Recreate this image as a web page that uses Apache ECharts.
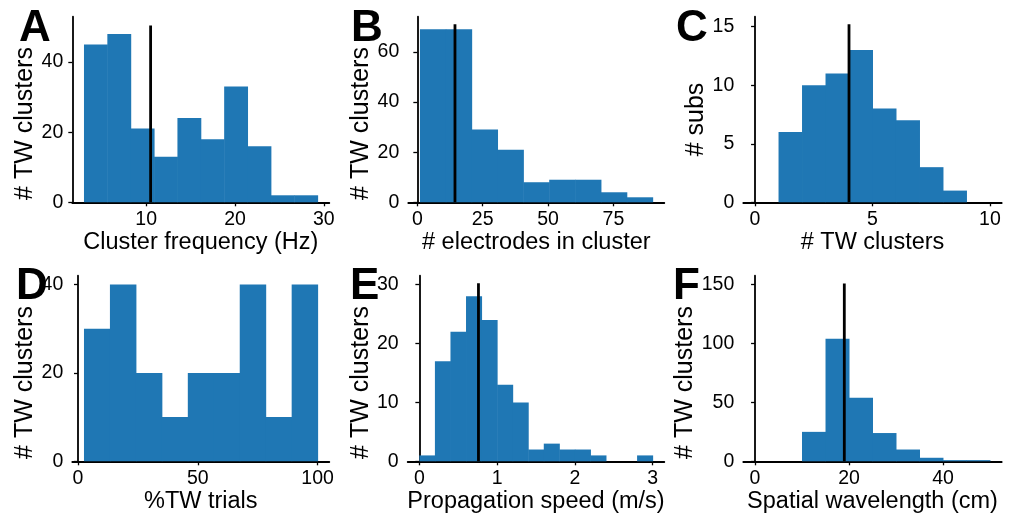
<!DOCTYPE html>
<html><head><meta charset="utf-8">
<script src="https://cdn.jsdelivr.net/npm/echarts@6/dist/echarts.min.js"></script>
<style>html,body{margin:0;padding:0;background:#fff}#c{width:1011px;height:515px}</style>
</head><body><div id="c"></div>
<script>
// ---- Panel A: cluster frequency ----
const freqEdges = [3.0, 5.63, 8.26, 10.89, 13.52, 16.15, 18.78, 21.41, 24.04, 26.67, 29.3];
const freqCounts = [45, 48, 21, 13, 24, 18, 33, 16, 2, 2];
const freqMedian = 10.5, freqMedianTop = 50.4;
const freqXTicks = [10, 20, 30], freqYTicks = [0, 20, 40];
// ---- Panel B: electrodes in cluster ----
const elecEdges = [1, 10.89, 20.78, 30.67, 40.56, 50.44, 60.33, 70.22, 80.11, 90];
const elecCounts = [69, 69, 29, 21, 8, 9, 9, 4, 2];
const elecMedian = 14.4, elecMedianTop = 71;
const elecXTicks = [0, 25, 50, 75], elecYTicks = [0, 20, 40, 60];
// ---- Panel C: TW clusters per subject ----
const subsEdges = [0, 1, 2, 3, 4, 5, 6, 7, 8, 9, 10];
const subsCounts = [0, 6, 10, 11, 13, 8, 7, 3, 1, 0];
const subsMedian = 4.0, subsMedianTop = 15.2;
const subsXTicks = [0, 5, 10], subsYTicks = [0, 5, 10, 15];
// ---- Panel D: % TW trials ----
const trialEdges = [2.5, 13.33, 24.17, 35, 45.83, 56.67, 67.5, 78.33, 89.17, 100];
const trialCounts = [30, 40, 20, 10, 20, 20, 40, 10, 40];
const trialXTicks = [0, 50, 100], trialYTicks = [0, 20, 40];
// ---- Panel E: propagation speed ----
const speedEdges = [0, 0.2, 0.4, 0.6, 0.8, 1.0, 1.2, 1.4, 1.6, 1.8, 2.0, 2.2, 2.4, 2.6, 2.8, 3.0];
const speedCounts = [1, 17, 22, 28, 24, 13, 10, 2, 3, 2, 2, 1, 0, 0, 1];
const speedMedian = 0.76, speedMedianTop = 30.2;
const speedXTicks = [0, 1, 2, 3], speedYTicks = [0, 10, 20, 30];
// ---- Panel F: spatial wavelength ----
const waveEdges = [0, 5, 10, 15, 20, 25, 30, 35, 40, 45, 50];
const waveCounts = [0, 0, 25, 104, 54, 24, 10, 3, 1, 1];
const waveMedian = 19.0, waveMedianTop = 150.9;
const waveXTicks = [0, 20, 40], waveYTicks = [0, 50, 100, 150];

const FONT = '"Liberation Sans", Arial, Helvetica, sans-serif';
const BLUE = '#1f77b4';

const panels = [
  {letter:'A', edges:freqEdges, counts:freqCounts, median:freqMedian, mtop:freqMedianTop,
   xmin:1.685, xmax:30.615, ymax:52.9, xt:freqXTicks, yt:freqYTicks,
   xname:'Cluster frequency (Hz)', yname:'# TW clusters',
   grid:{left:72.3, top:16.7, width:257, height:185.6}, lx:19, ly:7, ypad:28},
  {letter:'B', edges:elecEdges, counts:elecCounts, median:elecMedian, mtop:elecMedianTop,
   xmin:-3.45, xmax:94.45, ymax:74, xt:elecXTicks, yt:elecYTicks,
   xname:'# electrodes in cluster', yname:'# TW clusters',
   grid:{left:408.3, top:16.7, width:256, height:185.6}, lx:351, ly:7, ypad:28},
  {letter:'C', edges:subsEdges, counts:subsCounts, median:subsMedian, mtop:subsMedianTop,
   xmin:-0.5, xmax:10.5, ymax:15.85, xt:subsXTicks, yt:subsYTicks,
   xname:'# TW clusters', yname:'# subs',
   grid:{left:743.3, top:16.7, width:258.4, height:185.6}, lx:676, ly:7, ypad:20},
  {letter:'D', edges:trialEdges, counts:trialCounts, median:null, mtop:null,
   xmin:-2.375, xmax:104.875, ymax:42, xt:trialXTicks, yt:trialYTicks,
   xname:'%TW trials', yname:'# TW clusters',
   grid:{left:72.3, top:275.7, width:257, height:185.6}, lx:16, ly:265, ypad:28},
  {letter:'E', edges:speedEdges, counts:speedCounts, median:speedMedian, mtop:speedMedianTop,
   xmin:-0.15, xmax:3.15, ymax:31.5, xt:speedXTicks, yt:speedYTicks,
   xname:'Propagation speed (m/s)', yname:'# TW clusters',
   grid:{left:407.7, top:275.7, width:256.6, height:185.6}, lx:350, ly:265, ypad:28},
  {letter:'F', edges:waveEdges, counts:waveCounts, median:waveMedian, mtop:waveMedianTop,
   xmin:-2.5, xmax:52.5, ymax:157.6, xt:waveXTicks, yt:waveYTicks,
   xname:'Spatial wavelength (cm)', yname:'# TW clusters',
   grid:{left:743.3, top:275.7, width:258.4, height:185.6}, lx:673, ly:265, ypad:28}
];

function renderBar(params, api) {
  const p0 = api.coord([api.value(0), api.value(2)]);
  const p1 = api.coord([api.value(1), 0]);
  return {type:'rect', shape:{x:p0[0], y:p0[1], width:p1[0]-p0[0]+0.5, height:p1[1]-p0[1]},
          style:{fill:BLUE}};
}

const axisLineStyle = {color:'#000', width:1.8};
const grids = [], xAxes = [], yAxes = [], series = [], graphics = [];
panels.forEach((p, i) => {
  grids.push(Object.assign({containLabel:false}, p.grid));
  xAxes.push({type:'value', gridIndex:i, min:p.xmin, max:p.xmax,
    axisLine:{show:true, onZero:false, lineStyle:axisLineStyle},
    axisTick:{show:true, length:4, lineStyle:{color:'#000', width:1.3}, customValues:p.xt},
    axisLabel:{color:'#000', fontSize:19.5, fontFamily:FONT, margin:7, customValues:p.xt},
    splitLine:{show:false},
    name:p.xname, nameLocation:'middle', nameGap:27,
    nameTextStyle:{color:'#000', fontSize:23.5, fontFamily:FONT}});
  yAxes.push({type:'value', gridIndex:i, min:0, max:p.ymax,
    axisLine:{show:true, lineStyle:axisLineStyle},
    axisTick:{show:true, length:4, lineStyle:{color:'#000', width:1.3}, customValues:p.yt},
    axisLabel:{color:'#000', fontSize:19.5, fontFamily:FONT, margin:9, customValues:p.yt},
    splitLine:{show:false},
    name:p.yname, nameLocation:'middle', nameGap:34,
    nameTextStyle:{color:'#000', fontSize:25, fontFamily:FONT, padding:[0, p.ypad, 0, 0]}});
  const data = p.counts.map((c, k) => [p.edges[k], p.edges[k+1], c]);
  series.push({type:'custom', xAxisIndex:i, yAxisIndex:i, renderItem:renderBar,
    encode:{x:[0,1], y:2}, data:data, silent:true, z:2});
  if (p.median !== null) {
    series.push({type:'line', xAxisIndex:i, yAxisIndex:i, data:[[p.median,0],[p.median,p.mtop]],
      symbol:'none', lineStyle:{color:'#000', width:2.8}, silent:true, z:3, animation:false});
  }
  graphics.push({type:'text', left:p.lx, top:p.ly, z:10,
    style:{text:p.letter, font:'bold 44px ' + FONT, fill:'#000'}});
});

const chart = echarts.init(document.getElementById('c'), null, {renderer:'canvas'});
chart.setOption({
  backgroundColor:'#fff', animation:false,
  grid:grids, xAxis:xAxes, yAxis:yAxes, series:series, graphic:graphics
});
</script></body></html>
